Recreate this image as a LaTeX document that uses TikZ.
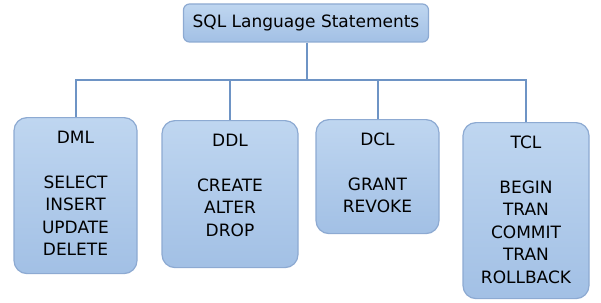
\documentclass[tikz,border=0pt]{standalone}
\usepackage{fontspec}
\setmainfont{DejaVu Sans}
\usepackage{xcolor}
\definecolor{boxtop}{HTML}{BFD6F0}
\definecolor{boxbot}{HTML}{A2C0E5}
\definecolor{boxline}{HTML}{8DAAD2}
\definecolor{linkblue}{HTML}{6E94C5}
\usetikzlibrary{positioning}

\begin{document}
\begin{tikzpicture}[
  x=1pt,y=-1pt,
  group/.style={rectangle,draw=boxline,line width=1.2pt,rounded corners=13pt,
                top color=boxtop,bottom color=boxbot,anchor=north,
                minimum width=#1},
  head/.style={rectangle,draw=boxline,line width=1.2pt,rounded corners=6pt,
               top color=boxtop,bottom color=boxbot,minimum width=245pt,
               minimum height=38pt,font=\fontsize{17}{21}\selectfont},
  items/.style={inner sep=0pt,align=center,anchor=north,
                font=\fontsize{17}{22.5}\selectfont},
  link/.style={draw=linkblue,line width=2pt},
]
  \useasboundingbox (0,0) rectangle (601,302);

  \node[head] (sql) at (306,23) {SQL Language Statements};

  \node[group=123pt,minimum height=156pt] (dml) at (75.5,117) {};
  \node[group=136pt,minimum height=147pt] (ddl) at (230,120) {};
  \node[group=123pt,minimum height=114pt] (dcl) at (377.5,119) {};
  \node[group=126pt,minimum height=176pt] (tcl) at (526,122) {};

  \node[items,below=14pt of dml.north] (dmltxt)
    {DML\\[22pt]SELECT\\INSERT\\UPDATE\\DELETE};
  \node[items,below=14pt of ddl.north] (ddltxt)
    {DDL\\[22pt]CREATE\\ALTER\\DROP};
  \node[items,below=14pt of dcl.north] (dcltxt)
    {DCL\\[22pt]GRANT\\REVOKE};
  \node[items,below=14pt of tcl.north] (tcltxt)
    {TCL\\[22pt]BEGIN\\TRAN\\COMMIT\\TRAN\\ROLLBACK};

  % tree connectors
  \coordinate (bar) at (307,80);
  \draw[link] (sql.south -| bar) -- (bar);
  \draw[link] (dml.north) -- (dml.north |- bar) -- (tcl.north |- bar) -- (tcl.north);
  \draw[link] (ddl.north) -- (ddl.north |- bar);
  \draw[link] (dcl.north) -- (dcl.north |- bar);
\end{tikzpicture}
\end{document}
